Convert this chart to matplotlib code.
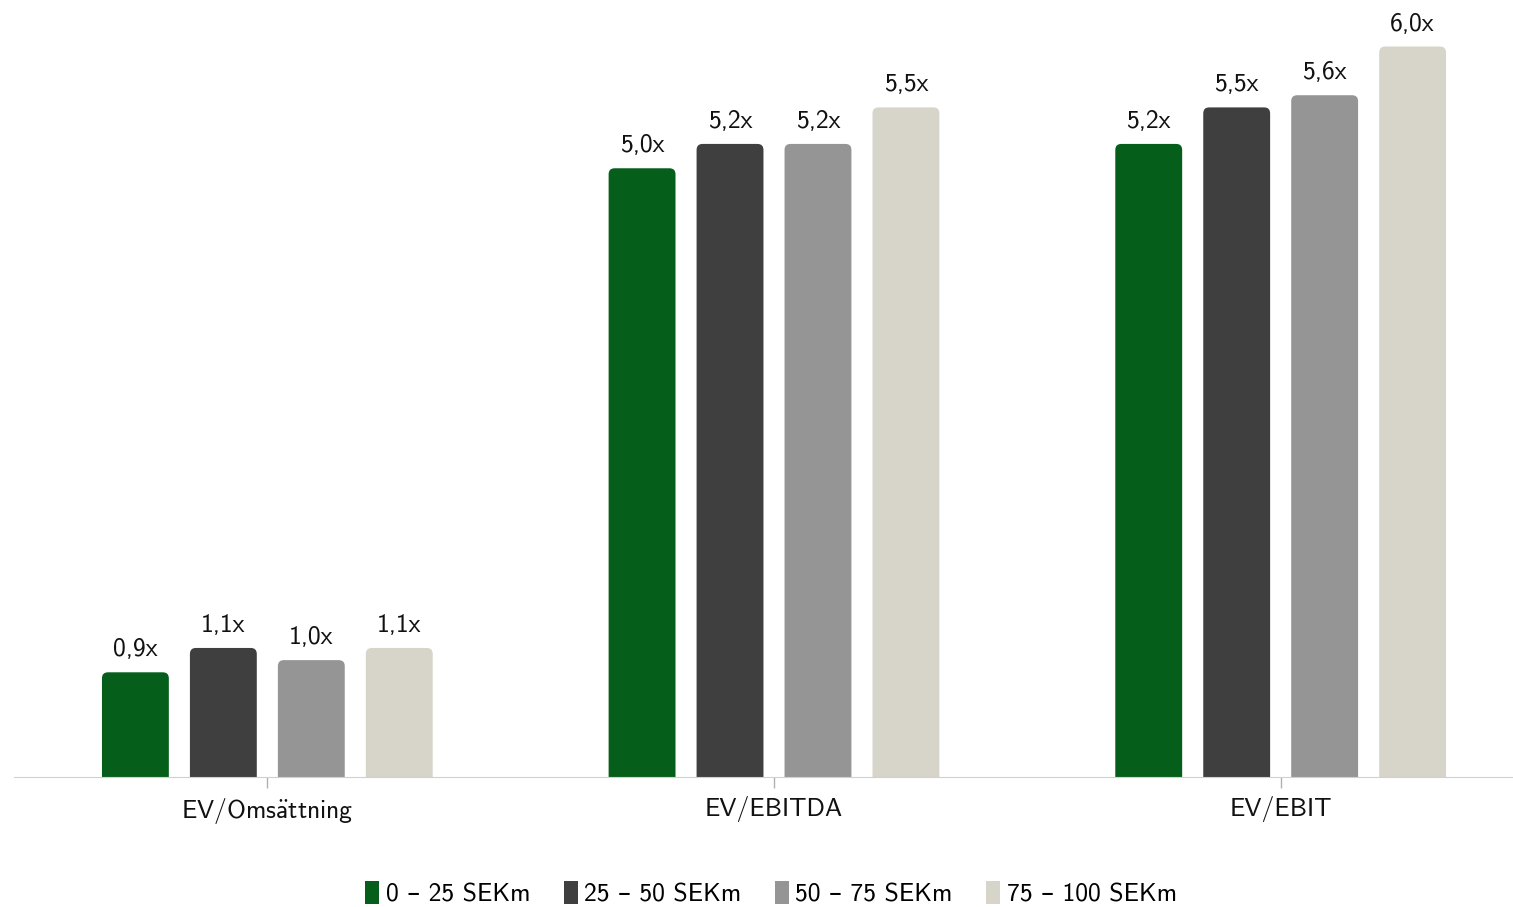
import numpy as np
import matplotlib
matplotlib.use("Agg")
import matplotlib.pyplot as plt
from matplotlib.patches import FancyBboxPatch, Patch

plt.rcParams["font.family"] = ["cmss10", "DejaVu Sans"]
plt.rcParams["mathtext.fontset"] = "cm"
plt.rcParams["axes.unicode_minus"] = False

# Multiples per size bucket
metrics = ["EV/Oms$\\mathsf{\\ddot{a}}$ttning", "EV/EBITDA", "EV/EBIT"]
buckets = ["0 – 25 SEKm", "25 – 50 SEKm", "50 – 75 SEKm", "75 – 100 SEKm"]
colors = ["#065e1b", "#3f3f3f", "#959595", "#d7d5ca"]
values = {
    "0 – 25 SEKm": [0.86, 5.0, 5.2],
    "25 – 50 SEKm": [1.06, 5.2, 5.5],
    "50 – 75 SEKm": [0.96, 5.2, 5.6],
    "75 – 100 SEKm": [1.06, 5.5, 6.0],
}

FS = 18.5
W, H = 1513, 907
fig = plt.figure(figsize=(W / 100, H / 100), dpi=100)
# axes runs a little past the right edge so the groups sit evenly
ax = fig.add_axes([14 / W, (H - 777) / H, (1534 - 14) / W, 767 / H])

x = np.arange(len(metrics))
pitch, width = 0.1736, 0.132
radius = 0.0118
aspect = (507 / 121.8)  # data-unit ratio y/x in pixels

for i, (b, c) in enumerate(zip(buckets, colors)):
    bars = ax.bar(x + (i - 1.5) * pitch, values[b], width, color=c)
    for rect, v in zip(bars, values[b]):
        rect.set_visible(False)
        # rounded-top bar; bottom corners fall below y=0 and get clipped
        extra = radius * aspect
        patch = FancyBboxPatch((rect.get_x(), -extra), rect.get_width(), v + extra,
                               boxstyle=f"round,pad=0,rounding_size={radius}",
                               mutation_aspect=aspect, fc=c, ec="none")
        ax.add_patch(patch)
        ax.text(rect.get_x() + rect.get_width() / 2, v + 0.09,
                f"{v:.1f}x".replace(".", ","), ha="center", va="bottom",
                fontsize=FS, color="#111111")

ax.set_xlim(-0.5, 2.5)
ax.set_ylim(0, 6.3)
ax.set_xticks(x)
ax.set_xticklabels(metrics, fontsize=FS, color="#111111")
ax.set_yticks([])
for s in ["top", "right", "left"]:
    ax.spines[s].set_visible(False)
ax.spines["bottom"].set_color("#d0d0d0")
ax.tick_params(axis="x", length=8, width=1, color="#b0b0b0", pad=6)

handles = [Patch(facecolor=c, label=b) for b, c in zip(buckets, colors)]
fig.legend(handles=handles, loc="lower center", bbox_to_anchor=(0.5096, -0.025),
           ncol=4, frameon=False, fontsize=FS, handlelength=0.55,
           handleheight=1.0, handletextpad=0.25, columnspacing=1.3)

fig.savefig("out.png", dpi=100)
